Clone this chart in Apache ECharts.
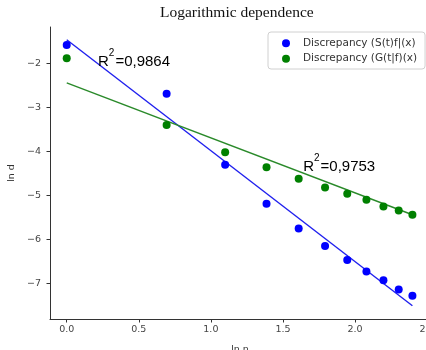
<!DOCTYPE html>
<html>
<head>
<meta charset="utf-8">
<script src="https://cdn.jsdelivr.net/npm/echarts@6/dist/echarts.min.js"></script>
<style>html,body{margin:0;padding:0;background:#fff;}#c{width:426px;height:350px;}</style>
</head>
<body>
<div id="c"></div>
<script>
const lnN = [0, 0.693, 1.099, 1.386, 1.609, 1.792, 1.946, 2.079, 2.197, 2.303, 2.398];
const dS = [-1.58, -2.69, -4.30, -5.19, -5.75, -6.15, -6.47, -6.73, -6.93, -7.14, -7.28];
const dG = [-1.88, -3.40, -4.02, -4.36, -4.62, -4.82, -4.96, -5.10, -5.25, -5.34, -5.44];
const fitS = [[0, -1.46], [2.398, -7.51]];
const fitG = [[0, -2.44], [2.398, -5.44]];
const xTicks = [0, 0.5, 1.0, 1.5, 2.0, 2.5];
const yTicks = [-7, -6, -5, -4, -3, -2];
const labS = {x: 0.217, y: -1.95, text: '0,9864'};
const labG = {x: 1.64, y: -4.33, text: '0,9753'};
const nameS = 'Discrepancy (S(t)f|(x)';
const nameG = 'Discrepancy (G(t|f)(x)';

const chart = echarts.init(document.getElementById('c'), null, {renderer: 'canvas'});
const tickFont = {fontFamily: 'DejaVu Sans', fontSize: 9.5, color: '#444'};
const richR = {
  r: {fontFamily: 'Liberation Sans', fontSize: 15, color: '#000', lineHeight: 16, verticalAlign: 'bottom'},
  s: {fontFamily: 'Liberation Sans', fontSize: 10, color: '#000', lineHeight: 10, verticalAlign: 'bottom', padding: [0, 1, 11, 0]}
};
function annot(l) {
  return {
    type: 'scatter', data: [[l.x, l.y]], symbolSize: 0, silent: true, z: 5,
    label: {show: true, position: 'right', distance: 0, color: '#000', opacity: 1,
      formatter: '{r|R}{s|2}{r|=' + l.text + '}', rich: richR}
  };
}
chart.setOption({
  animation: false,
  backgroundColor: '#fff',
  title: {text: 'Logarithmic dependence', left: 160, top: 5, padding: 0,
    textStyle: {fontFamily: 'Liberation Serif', fontSize: 15.5, fontWeight: 'normal', color: '#111'}},
  legend: {
    data: [nameS, nameG], orient: 'vertical', left: 268, top: 32,
    padding: [5, 8, 4, 14], itemGap: 3, itemWidth: 8, itemHeight: 8, icon: 'circle',
    borderColor: '#d0d0d0', borderWidth: 1, borderRadius: 3, backgroundColor: '#fff',
    textStyle: {fontFamily: 'DejaVu Sans', fontSize: 10.5, color: '#333', lineHeight: 12.5, padding: [0, 0, 0, 8]}
  },
  grid: {left: 50, top: 27, bottom: 31, width: 380, containLabel: false, outerBoundsMode: 'none'},
  xAxis: {
    type: 'value', min: -0.116, max: 2.52,
    name: 'ln n', nameLocation: 'middle', nameGap: 26,
    nameTextStyle: {fontFamily: 'DejaVu Sans', fontSize: 9.5, color: '#333'},
    axisLine: {onZero: false, lineStyle: {color: '#333', width: 1}},
    axisTick: {show: true, length: 3.5, customValues: xTicks, lineStyle: {color: '#333'}},
    axisLabel: Object.assign({customValues: xTicks, margin: 6, formatter: v => v.toFixed(1)}, tickFont),
    splitLine: {show: false}
  },
  yAxis: {
    type: 'value', min: -7.81, max: -1.17,
    name: 'ln d', nameLocation: 'middle', nameGap: 32, nameRotate: 90,
    nameTextStyle: {fontFamily: 'DejaVu Sans', fontSize: 9.5, color: '#333'},
    axisLine: {show: true, onZero: false, lineStyle: {color: '#333', width: 1}},
    axisTick: {show: true, length: 3.5, customValues: yTicks, lineStyle: {color: '#333'}},
    axisLabel: Object.assign({customValues: yTicks, margin: 9, formatter: v => '\u2212' + Math.abs(v)}, tickFont),
    splitLine: {show: false}
  },
  series: [
    {type: 'line', data: fitS, symbol: 'none', silent: true, lineStyle: {color: '#2020ee', width: 1.4}, z: 2},
    {type: 'line', data: fitG, symbol: 'none', silent: true, lineStyle: {color: '#2a8a2a', width: 1.4}, z: 2},
    {name: nameS, type: 'scatter', data: lnN.map((x, i) => [x, dS[i]]), symbolSize: 8, itemStyle: {color: '#0000ff', opacity: 1}, z: 3},
    {name: nameG, type: 'scatter', data: lnN.map((x, i) => [x, dG[i]]), symbolSize: 8, itemStyle: {color: '#008000', opacity: 1}, z: 3},
    annot(labS),
    annot(labG)
  ]
});
</script>
</body>
</html>
